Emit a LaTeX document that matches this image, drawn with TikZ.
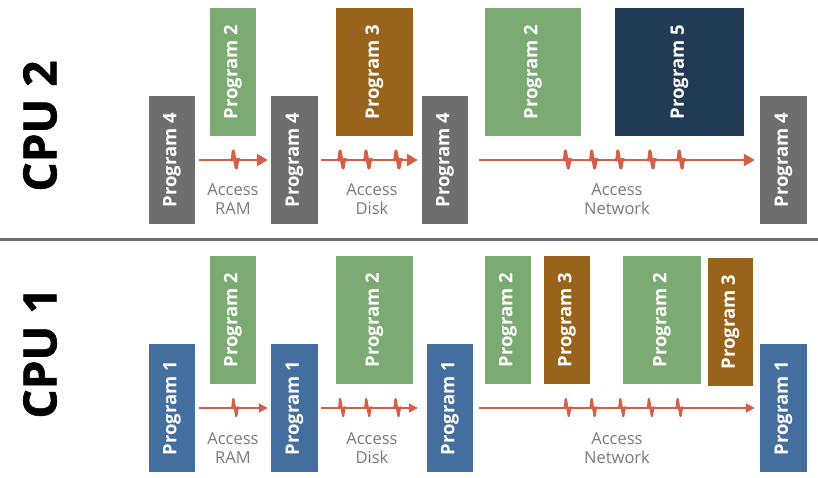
\documentclass[tikz,border=0pt]{standalone}
\usepackage{fontspec}
\setmainfont{Open Sans}
\newfontfamily\heavyfont{Open Sans}[BoldFeatures={FakeBold=1.2}]
\usetikzlibrary{arrows.meta,positioning}
\definecolor{progfour}{HTML}{6E6E6E}
\definecolor{progone}{HTML}{436E9E}
\definecolor{progtwo}{HTML}{7BAA72}
\definecolor{progthree}{HTML}{98641C}
\definecolor{progfive}{HTML}{213B55}
\definecolor{flowred}{HTML}{D35F48}
\definecolor{labelgray}{HTML}{7A7A7A}
\definecolor{rulegray}{HTML}{6E6E6E}
\tikzset{%
    prog/.style={%
        rectangle, minimum height=128pt, inner sep=0pt, text centered, text=white, font=\bfseries\fontsize{18.5}{18.5}\selectfont
    },
    cpu/.style={%
        rotate=90, font=\heavyfont\bfseries\fontsize{46}{46}\selectfont
    },
    access/.style={%
        align=center, text=labelgray, font=\fontsize{16.5}{18.5}\selectfont
    },
    flow/.style={%
        draw=flowred, line width=2.6pt, -{Triangle[length=11pt,width=12pt]}
    },
    thinflow/.style={%
        draw=flowred, line width=1.8pt, -{Triangle[length=9pt,width=9pt]}
    },
    spike/.pic={%
        \draw[-, shorten <=0pt, shorten >=0pt, line join=round, draw=flowred, line width=#1]
          (-4.5,0) -- (-2.8,-0.5) -- (-2,-9) -- (1,8) -- (2.4,-0.5) -- (4.5,0);
    },
}
\begin{document}
\begin{tikzpicture}[x=1pt,y=-1pt]

    \useasboundingbox[fill=white] (0,0) rectangle (818,477);

    \node[cpu] (cpu2) at (40,126) {CPU 2};
    \node[cpu] (cpu1) at (40,353) {CPU 1};
    \draw[rulegray, line width=3pt] (0,239) -- (818,239);

    \begin{scope}
      \node[prog, fill=progfour, minimum width=46pt] (top4a) at (172,160) {\rotatebox{90}{Program 4}};
      \node[prog, fill=progtwo, minimum width=46pt] (top2a) at (233,72) {\rotatebox{90}{Program 2}};
      \node[prog, fill=progfour, minimum width=47pt] (top4b) at (294.5,160) {\rotatebox{90}{Program 4}};
      \node[prog, fill=progthree, minimum width=77pt] (top3) at (374.5,72) {\rotatebox{90}{Program 3}};
      \node[prog, fill=progfour, minimum width=46pt] (top4c) at (445,160) {\rotatebox{90}{Program 4}};
      \node[prog, fill=progtwo, minimum width=96pt] (top2b) at (533,72) {\rotatebox{90}{Program 2}};
      \node[prog, fill=progfive, minimum width=129pt] (top5) at (679.5,72) {\rotatebox{90}{Program 5}};
      \node[prog, fill=progfour, minimum width=47pt] (top4d) at (783.5,160) {\rotatebox{90}{Program 4}};
      \draw[flow, shorten <=4pt, shorten >=3pt] (top4a) -- (top4b)
        pic[pos=0.53] {spike=3.2pt};
      \draw[flow, shorten <=3pt, shorten >=4pt] (top4b) -- (top4c)
        pic[pos=0.23] {spike=3.2pt}
        pic[pos=0.48] {spike=3.2pt}
        pic[pos=0.77] {spike=3.2pt};
      \draw[flow, shorten <=11pt, shorten >=5pt] (top4c) -- (top4d)
        pic[pos=0.34] {spike=3.2pt}
        pic[pos=0.43] {spike=3.2pt}
        pic[pos=0.52] {spike=3.2pt}
        pic[pos=0.63] {spike=3.2pt}
        pic[pos=0.73] {spike=3.2pt};
      \node[access] (topram) at (233,199) {Access\\RAM};
      \node[access] (topdisk) at (372,199) {Access\\Disk};
      \node[access] (topnet) at (617,199) {Access\\Network};
    \end{scope}

    \begin{scope}
      \node[prog, fill=progone, minimum width=46pt] (bot1a) at (172,408) {\rotatebox{90}{Program 1}};
      \node[prog, fill=progtwo, minimum width=46pt] (bot2a) at (233,320) {\rotatebox{90}{Program 2}};
      \node[prog, fill=progone, minimum width=47pt] (bot1b) at (294.5,408) {\rotatebox{90}{Program 1}};
      \node[prog, fill=progtwo, minimum width=77pt] (bot2b) at (374.5,320) {\rotatebox{90}{Program 2}};
      \node[prog, fill=progone, minimum width=46pt] (bot1c) at (450,408) {\rotatebox{90}{Program 1}};
      \node[prog, fill=progtwo, minimum width=46pt] (bot2c) at (508,320) {\rotatebox{90}{Program 2}};
      \node[prog, fill=progthree, minimum width=46pt] (bot3a) at (567,320) {\rotatebox{90}{Program 3}};
      \node[prog, fill=progtwo, minimum width=78pt] (bot2d) at (662,320) {\rotatebox{90}{Program 2}};
      \node[prog, fill=progthree, minimum width=45pt] (bot3b) at (730.5,322) {\rotatebox{90}{Program 3}};
      \node[prog, fill=progone, minimum width=47pt] (bot1d) at (783.5,408) {\rotatebox{90}{Program 1}};
      \draw[thinflow, shorten <=4pt, shorten >=3pt] (bot1a) -- (bot1b)
        pic[pos=0.53] {spike=2.3pt};
      \draw[thinflow, shorten <=3pt, shorten >=9pt] (bot1b) -- (bot1c)
        pic[pos=0.22] {spike=2.3pt}
        pic[pos=0.46] {spike=2.3pt}
        pic[pos=0.73] {spike=2.3pt};
      \draw[thinflow, shorten <=6pt, shorten >=5pt] (bot1c) -- (bot1d)
        pic[pos=0.33] {spike=2.3pt}
        pic[pos=0.42] {spike=2.3pt}
        pic[pos=0.52] {spike=2.3pt}
        pic[pos=0.62] {spike=2.3pt}
        pic[pos=0.72] {spike=2.3pt};
      \node[access] (botram) at (233,448) {Access\\RAM};
      \node[access] (botdisk) at (372,448) {Access\\Disk};
      \node[access] (botnet) at (617,448) {Access\\Network};
    \end{scope}

  \end{tikzpicture}
\end{document}
